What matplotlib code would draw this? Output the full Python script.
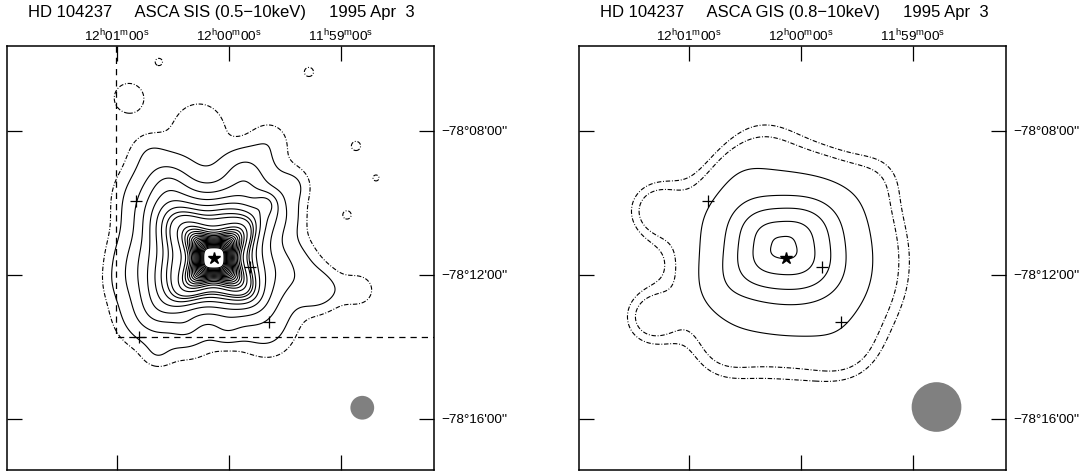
import numpy as np
import matplotlib.pyplot as plt
from matplotlib.patches import Ellipse

plt.rcParams['font.family'] = ['Liberation Sans', 'DejaVu Sans']
plt.rcParams['mathtext.default'] = 'regular'

# sky frame: RA offset in minutes of time from 12h00m00s, Dec offset in arcmin from -78d12'00"
ra_ticks = [1.0, 0.0, -1.0]
ra_labels = ['12$^{h}$01$^{m}$00$^{s}$', '12$^{h}$00$^{m}$00$^{s}$', '11$^{h}$59$^{m}$00$^{s}$']
dec_ticks = [4.0, 0.0, -4.0]
dec_labels = ["\u221278\u00b008'00''", "\u221278\u00b012'00''", "\u221278\u00b016'00''"]
titles = ['HD 104237     ASCA SIS (0.5\u221210keV)     1995 Apr  3',
          'HD 104237     ASCA GIS (0.8\u221210keV)     1995 Apr  3']

# HD 104237 and nearby optical sources
star_ra, star_dec = 0.13, 0.46
cross_ra = [0.83, -0.19, -0.36]
cross_dec = [2.05, 0.23, -1.32]
edge_cross_ra, edge_cross_dec = 0.80, -1.72

# SIS chip boundary
chip_ra, chip_dec = 1.01, -1.72

# SIS point source with boxy PSF
sis_core = dict(ra=0.134, dec=0.472, amp=2.0e4, rc=0.3, box=0.25)
# SIS diffuse emission: gaussian blobs (first one is the boxy halo)
sis_ra = [0.205, 0.848, 0.670, 0.018, -0.536, -0.804, -0.339, 0.536, -0.134, -0.446,
          0.268, -0.357, -0.580, -1.161, 0.714, 0.357, -0.357, 0.9375, 0.643, 0.384,
          0.893, 0.625, -0.714, -1.134, -1.3125, -1.054]
sis_dec = [0.611, 0.472, -1.194, -1.528, 0.194, -0.417, 2.0, 2.639, 2.917, 1.667,
           4.083, 3.75, 2.5, -0.417, 3.472, -1.944, -1.806, -0.194, -2.222, -1.472,
           4.917, 5.917, 5.639, 3.583, 2.694, 1.667]
sis_sig = [1.14, 0.50, 0.50, 0.28, 0.56, 0.44, 0.22, 0.44, 0.44, 0.42,
           0.61, 0.44, 0.33, 0.42, 0.42, 0.56, 0.50, 0.42, 0.30, 0.28,
           0.39, 0.11, 0.14, 0.14, 0.10, 0.125]
sis_amp = [11.3, 0.8, 0.8, 0.6, 1.2, 1.2, 1.2, 1.3, 1.4, 0.8,
           0.9, 0.7, 0.6, 0.7, 0.6, 0.4, 0.4, 0.45, 0.5, 0.6,
           0.85, 0.75, 0.75, 0.75, 0.7, 0.75]
sis_halo_box = 0.12
sis_solid = [1, 2, 3, 4, 5, 6, 7, 8, 11, 15, 20, 27, 36, 49, 66, 89, 120, 162, 219,
             296, 400, 540, 729, 984, 1330, 1800]
sis_dashdot = [0.5]

# GIS gaussian components (first one is the slightly wide, boxy core)
gis_ra = [0.170, 0.089, 1.295, 1.339, 0.714, -0.402, 0.357, 0.714, -0.714, 0.536]
gis_dec = [0.833, 0.361, 1.806, -1.194, -2.139, -2.083, 3.611, -0.417, 2.778, 2.778]
gis_sig = [1.0, 1.8, 0.61, 0.61, 0.70, 0.70, 0.80, 0.50, 0.60, 0.50]
gis_amp = [6.0, 4.0, 1.2, 1.2, 0.5, 0.5, 0.5, 0.5, 0.35, 0.4]
gis_core_box = 0.06
gis_core_stretch = 1.2
gis_solid = [2.3, 4.5, 6.2, 8.0, 9.5]
gis_dashdot = [0.8, 1.1]

# beam size (radius, arcmin)
beam_ra = [-1.19, -1.21]
beam_dec = [-3.69, -3.67]
beam_r = [0.33, 0.69]

ra_per_arcmin = 3.11
xlim = (1.98, -1.83)
ylim = (-5.42, 6.36)

ra = np.linspace(2.1, -1.95, 900)
dec = np.linspace(-5.6, 6.5, 900)
RA, DEC = np.meshgrid(ra, dec)


def offsets(r0, d0, stretch=1.0):
    dx = (RA - r0) * ra_per_arcmin / stretch
    dy = DEC - d0
    return np.hypot(dx, dy), np.arctan2(dy, dx)


def gauss_sum(ras, decs, sigs, amps, box0=0.0, stretch0=1.0):
    z = np.zeros_like(RA)
    for k, (r0, d0, s, a) in enumerate(zip(ras, decs, sigs, amps)):
        if k == 0:
            r, th = offsets(r0, d0, stretch0)
            r = r * (1 + box0 * np.cos(4 * th))
        else:
            r, th = offsets(r0, d0)
        z += a * np.exp(-r**2 / (2 * s**2))
    return z


def boxy_core(c):
    # round in the middle, going square further out
    r, th = offsets(c['ra'], c['dec'])
    box = c['box'] * r**2 / (r**2 + 0.5**2)
    reff = r * (1 + box * np.cos(4 * th))
    return c['amp'] / (1 + (reff / c['rc'])**2)**3.5


sis_map = boxy_core(sis_core) + gauss_sum(sis_ra, sis_dec, sis_sig, sis_amp, sis_halo_box)
gis_map = gauss_sum(gis_ra, gis_dec, gis_sig, gis_amp, gis_core_box, gis_core_stretch)

dashdot = (0, (4, 1.6, 0.8, 1.6))

fig = plt.figure(figsize=(10.79, 4.76), dpi=100)
ax1 = fig.add_axes([7 / 1079, 6 / 476, 427 / 1079, 424 / 476])
ax2 = fig.add_axes([579 / 1079, 6 / 476, 427 / 1079, 424 / 476])

for i, (ax, z, solid, dd) in enumerate([(ax1, sis_map, sis_solid, sis_dashdot),
                                        (ax2, gis_map, gis_solid, gis_dashdot)]):
    ax.contour(RA, DEC, z, levels=dd, colors='black', linewidths=0.8, linestyles=[dashdot])
    ax.contour(RA, DEC, z, levels=solid, colors='black', linewidths=0.8, linestyles='solid')
    ax.plot(cross_ra, cross_dec, '+', color='black', ms=9, mew=0.9)
    ax.plot(star_ra, star_dec, '*', color='black', ms=9)
    ax.add_patch(Ellipse((beam_ra[i], beam_dec[i]), 2 * beam_r[i] / ra_per_arcmin, 2 * beam_r[i],
                         color='#808080', lw=0))
    ax.set_xlim(xlim)
    ax.set_ylim(ylim)
    ax.set_xticks(ra_ticks)
    ax.set_xticklabels(ra_labels, fontsize=9.7)
    ax.set_yticks(dec_ticks)
    ax.set_yticklabels(dec_labels, fontsize=9.7)
    ax.tick_params(direction='in', length=11, width=0.9, top=True, bottom=True,
                   left=True, right=True, labeltop=True, labelbottom=False,
                   labelleft=False, labelright=True)
    ax.tick_params(axis='x', pad=1.5)
    ax.tick_params(axis='y', pad=5)
    for sp in ax.spines.values():
        sp.set_linewidth(1.1)
    ax.text(0.05, 1.078, titles[i], transform=ax.transAxes, fontsize=12, ha='left', va='center')

# chip edge for SIS
ax1.plot([chip_ra, chip_ra, xlim[1]], [ylim[1], chip_dec, chip_dec], color='black',
         lw=0.9, ls=(0, (5, 4)))
ax1.plot(edge_cross_ra, edge_cross_dec, '+', color='black', ms=8, mew=0.9)

fig.savefig('out.png', dpi=100)
